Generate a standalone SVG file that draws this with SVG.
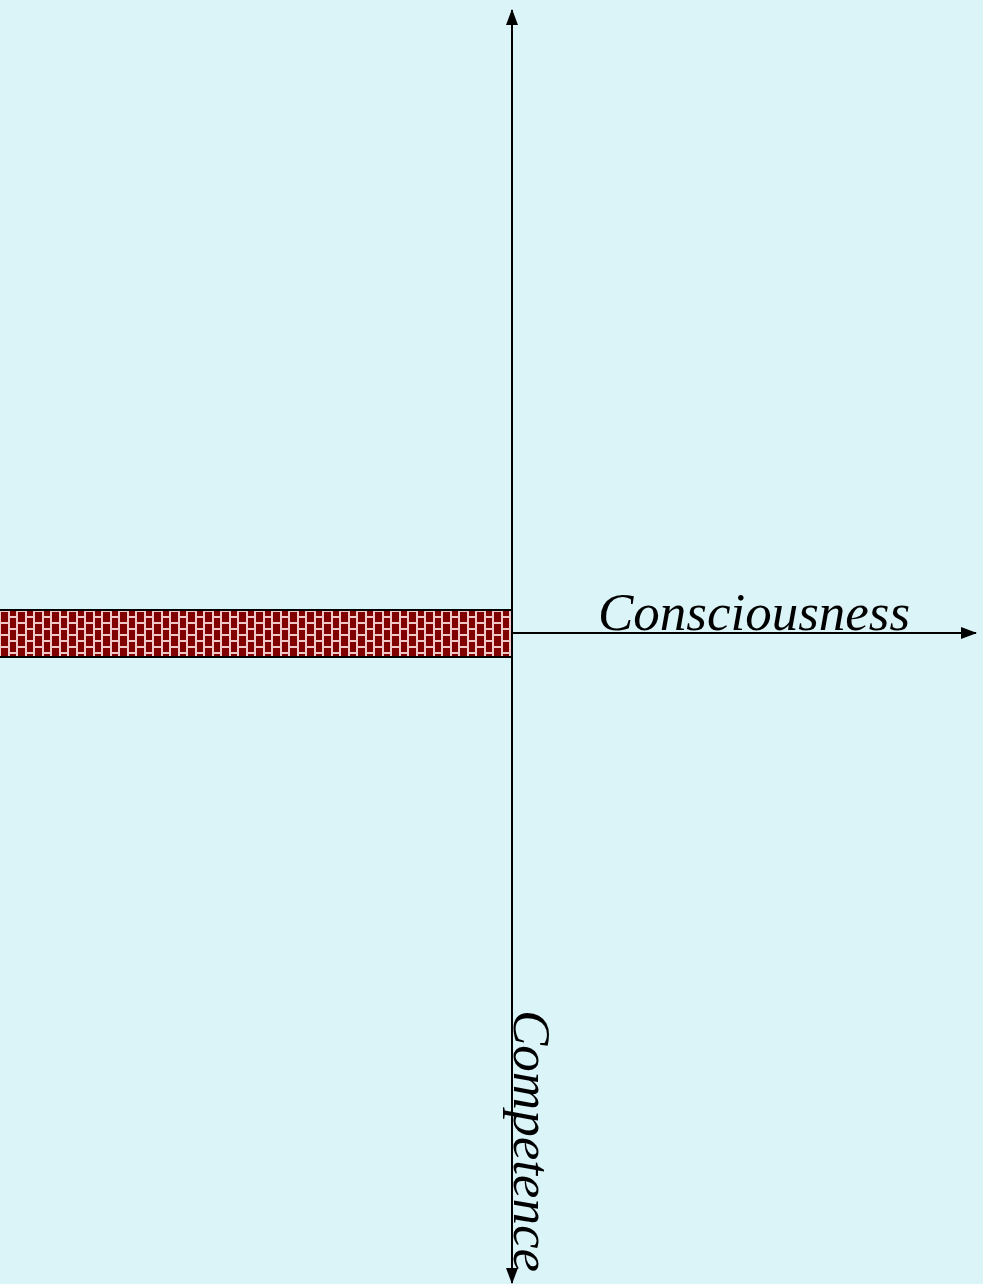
<svg xmlns="http://www.w3.org/2000/svg" width="983" height="1284" viewBox="0 0 983 1284">
<style>
.axis{stroke:#000;stroke-width:2;fill:none}
.lbl{font-family:"Liberation Serif",serif;font-style:italic;font-size:53px;fill:#000}
</style>
<defs>
<pattern id="brick" patternUnits="userSpaceOnUse" x="0" y="611" width="17" height="24">
<rect width="17" height="24" fill="#f0c8c8"/>
<rect x="1" y="1" width="7" height="10" fill="#800000"/>
<rect x="10" y="-5" width="6" height="10" fill="#800000"/>
<rect x="10" y="7" width="6" height="10" fill="#800000"/>
<rect x="10" y="19" width="6" height="10" fill="#800000"/>
<rect x="1" y="13" width="7" height="10" fill="#800000"/>
</pattern>
<marker id="ah" markerWidth="16" markerHeight="16" refX="15" refY="8" orient="auto-start-reverse" markerUnits="userSpaceOnUse" viewBox="0 0 16 16">
<path d="M0,2 L16,8 L0,14 z" fill="#000"/>
</marker>
</defs>
<rect width="983" height="1284" fill="#dbf4f8"/>
<g id="bar">
<rect x="-2" y="610" width="514" height="47" fill="url(#brick)" stroke="#000" stroke-width="2"/>
</g>
<g id="connectors">
<line class="axis" x1="512" y1="10" x2="512" y2="1283" marker-start="url(#ah)" marker-end="url(#ah)"/>
<line class="axis" x1="512" y1="633" x2="976" y2="633" marker-end="url(#ah)"/>
</g>
<g id="consciousness">
<text class="lbl" x="598" y="630">Consciousness</text>
</g>
<g id="competence">
<text class="lbl" transform="translate(514,1010) rotate(90)">Competence</text>
</g>
</svg>
